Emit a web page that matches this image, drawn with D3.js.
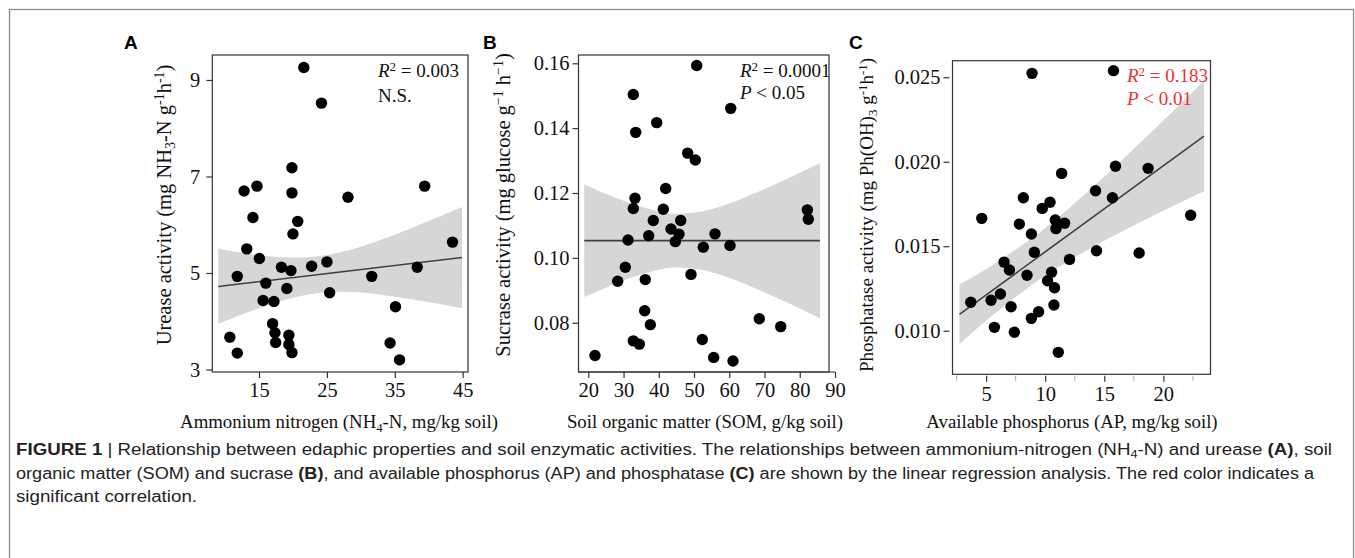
<!DOCTYPE html>
<html><head><meta charset="utf-8">
<script src="https://cdn.jsdelivr.net/npm/d3@7"></script>
<style>body{margin:0;background:#fff}svg{display:block}</style>
</head><body><svg id="c" width="1355" height="558"></svg>
<script>
// ---------- data ----------
const ammoniumN = [21.6,24.2,19.85,12.8,14.7,19.85,28.1,39.4,14.1,20.7,20.0,13.2,43.5,15.05,25.0,22.75,18.3,38.3,19.7,11.8,31.6,16.0,19.1,25.4,15.6,17.2,35.1,17.0,17.35,19.4,10.7,17.45,19.4,34.3,11.8,19.85,35.7];
const urease    = [9.26,8.52,7.18,6.70,6.80,6.66,6.57,6.80,6.15,6.07,5.81,5.50,5.64,5.30,5.23,5.14,5.12,5.12,5.05,4.93,4.93,4.79,4.68,4.59,4.43,4.41,4.30,3.95,3.76,3.71,3.67,3.56,3.52,3.55,3.34,3.35,3.20];

const som      = [50.76,32.77,60.41,39.41,33.45,48.2,50.36,41.96,33.25,32.77,41.28,38.44,46.22,43.47,45.74,37.14,31.27,44.69,55.95,52.63,60.21,82.15,82.43,30.5,28.34,36.17,49.14,36.0,37.6,68.52,74.6,32.77,34.47,52.35,21.9,55.58,61.06];
const sucrase  = [0.1593,0.1504,0.1461,0.1417,0.1387,0.1323,0.1302,0.1214,0.1184,0.1152,0.1150,0.1115,0.1115,0.1089,0.1073,0.1068,0.1055,0.1050,0.1074,0.1033,0.1038,0.1148,0.1119,0.0971,0.0928,0.0933,0.0949,0.0837,0.0794,0.0812,0.0788,0.0744,0.0734,0.0748,0.0699,0.0693,0.0682];

const availP      = [8.885,15.78,15.95,18.71,11.39,14.26,8.15,15.69,10.41,9.75,4.63,22.31,10.85,11.64,7.81,10.91,8.83,9.08,14.34,17.95,12.06,6.52,6.97,10.54,8.46,10.2,10.79,6.21,3.70,5.42,7.11,10.74,9.44,8.83,5.70,7.39,11.11];
const phosphatase = [0.02523,0.02539,0.01973,0.01961,0.01931,0.01828,0.01787,0.01787,0.01760,0.01724,0.01665,0.01683,0.01655,0.01636,0.01631,0.01604,0.01572,0.01464,0.01473,0.01460,0.01422,0.01406,0.01359,0.01346,0.01328,0.01296,0.01254,0.01217,0.01168,0.01180,0.01142,0.01152,0.01112,0.01073,0.01020,0.00991,0.00872];

// fitted lines: [x0, y0, x1, y1]
const fitA = [9.0, 4.72, 44.9, 5.32];
const fitB = [18.86, 0.1053, 85.75, 0.1053];
const fitC = [2.745, 0.01097, 23.44, 0.02152];

// confidence bands: x, lower, upper
const bandAx = [9, 15, 21, 27, 33, 39, 44.9];
const bandAlo = [3.95, 4.27, 4.52, 4.61, 4.55, 4.42, 4.27];
const bandAhi = [5.50, 5.37, 5.32, 5.43, 5.69, 6.02, 6.37];
const bandBx = [18.86, 30, 40, 46, 55, 65, 75, 85.75];
const bandBlo = [0.0879, 0.0930, 0.0963, 0.0970, 0.0956, 0.0917, 0.0869, 0.0813];
const bandBhi = [0.1227, 0.1176, 0.1143, 0.1136, 0.1150, 0.1189, 0.1237, 0.1292];
const bandCx = [2.745, 5, 8.4, 11, 14, 17, 20, 23.44];
const bandClo = [0.00920, 0.01059, 0.01247, 0.01371, 0.01494, 0.01605, 0.01710, 0.01825];
const bandChi = [0.01274, 0.01365, 0.01523, 0.01665, 0.01848, 0.02043, 0.02244, 0.02480];

// ticks
const ticksAx = [15, 25, 35, 45];
const ticksAy = [3, 5, 7, 9];
const ticksBx = [20, 30, 40, 50, 60, 70, 80, 90];
const ticksBy = [0.08, 0.10, 0.12, 0.14, 0.16];
const ticksCx = [5, 10, 15, 20];
const ticksCxMinor = [2.5, 7.5, 12.5, 17.5, 22.5];
const ticksCy = [0.010, 0.015, 0.020, 0.025];

const statsA = ["0.003", "N.S."];
const statsB = ["0.0001", "P < 0.05"];
const statsC = ["0.183", "P < 0.01"];

// ---------- drawing ----------
const svg = d3.select("#c");
const SERIF = "'Liberation Serif','Times New Roman',serif";
const SANS = "'Liberation Sans',Arial,sans-serif";
const TICK_FS = 20.5, XT_FS = 18.8, ST_FS = 19;

// outer frame
svg.append("rect").attr("x", 9.5).attr("y", 9.5).attr("width", 1344).attr("height", 560)
  .attr("fill", "none").attr("stroke", "#8c8c8c").attr("stroke-width", 1.3);

function rich(sel, parts) {
  parts.forEach(p => {
    const [t, k] = Array.isArray(p) ? p : [p, "n"];
    const ts = sel.append("tspan").text(t).attr("class", k);
    if (k === "sub") ts.attr("font-size", "0.68em").attr("dy", "0.3em");
    if (k === "sup") ts.attr("font-size", "0.68em").attr("dy", "-0.5em");
    if (k === "i") ts.attr("font-style", "italic");
    if (k === "b") ts.attr("font-weight", "bold");
  });
  let prev = null;
  sel.selectAll("tspan").each(function() {
    const cl = d3.select(this).attr("class");
    if (prev === "sub" && cl !== "sub") d3.select(this).attr("dy", "-0.204em");
    if (prev === "sup" && cl !== "sup") d3.select(this).attr("dy", "0.34em");
    prev = cl;
  });
}

function panel(cfg) {
  const g = svg.append("g");
  const x = d3.scaleLinear().domain(cfg.xdom).range([cfg.box[0], cfg.box[2]]);
  const y = d3.scaleLinear().domain(cfg.ydom).range([cfg.box[3], cfg.box[1]]);

  const band = cfg.bandX.map((v, i) => ({x: v, lo: cfg.bandLo[i], hi: cfg.bandHi[i]}));
  g.append("path").datum(band)
    .attr("d", d3.area().x(d => x(d.x)).y0(d => y(d.lo)).y1(d => y(d.hi)).curve(d3.curveNatural))
    .attr("fill", "#d6d6d6");
  g.append("line").attr("x1", x(cfg.fit[0])).attr("y1", y(cfg.fit[1]))
    .attr("x2", x(cfg.fit[2])).attr("y2", y(cfg.fit[3]))
    .attr("stroke", "#404040").attr("stroke-width", 1.6);
  g.selectAll("circle.pt").data(cfg.xs.map((v, i) => [v, cfg.ys[i]])).join("circle")
    .attr("class", "pt").attr("cx", d => x(d[0])).attr("cy", d => y(d[1])).attr("r", 5.7).attr("fill", "#000");
  g.append("rect").attr("x", cfg.box[0]).attr("y", cfg.box[1])
    .attr("width", cfg.box[2] - cfg.box[0]).attr("height", cfg.box[3] - cfg.box[1])
    .attr("fill", "none").attr("stroke", "#333").attr("stroke-width", 1.2);

  const xa = g.append("g").attr("transform", `translate(0,${cfg.box[3] + cfg.xoff})`)
    .call(d3.axisBottom(x).tickValues(cfg.xticks).tickFormat(d3.format("d")).tickSize(6).tickSizeOuter(0).tickPadding(cfg.xpad));
  xa.select(".domain").remove();
  if (cfg.xaxisLine) {
    xa.append("line").attr("x1", cfg.box[0]).attr("x2", x(cfg.xticks[cfg.xticks.length - 1]))
      .attr("stroke", "#333").attr("stroke-width", 1.2);
  }
  if (cfg.xminor) {
    xa.selectAll("line.minor").data(cfg.xminor).join("line").attr("class", "minor")
      .attr("x1", d => x(d)).attr("x2", d => x(d)).attr("y1", 0).attr("y2", 5)
      .attr("stroke", "#aaa").attr("stroke-width", 1);
  }
  xa.selectAll(".tick line").attr("stroke", "#333").attr("stroke-width", 1.2);
  xa.selectAll("text").attr("font-family", SERIF).attr("font-size", TICK_FS).attr("fill", "#111");

  const ya = g.append("g").attr("transform", `translate(${cfg.box[0] - cfg.yoff},0)`)
    .call(d3.axisLeft(y).tickValues(cfg.yticks).tickFormat(cfg.yfmt).tickSize(6).tickSizeOuter(0).tickPadding(cfg.ypad));
  ya.select(".domain").remove();
  ya.selectAll(".tick line").attr("stroke", "#333").attr("stroke-width", 1.2);
  ya.selectAll("text").attr("font-family", SERIF).attr("font-size", TICK_FS).attr("fill", "#111");

  const xt = g.append("text").attr("x", cfg.xtitle[0]).attr("y", cfg.xtitle[1]).attr("text-anchor", "middle")
    .attr("font-family", SERIF).attr("font-size", XT_FS).attr("fill", "#111");
  rich(xt, cfg.xtitleParts);
  const yt = g.append("text").attr("transform", `translate(${cfg.ytitle[0]},${cfg.ytitle[1]}) rotate(-90)`)
    .attr("text-anchor", "middle").attr("font-family", SERIF).attr("font-size", cfg.ytfs).attr("fill", "#111");
  rich(yt, cfg.ytitleParts);

  g.append("text").attr("x", cfg.letter[0]).attr("y", cfg.letter[1]).text(cfg.letter[2])
    .attr("font-family", SANS).attr("font-weight", "bold").attr("font-size", 19).attr("fill", "#000");

  const s1 = g.append("text").attr("x", cfg.stats[0]).attr("y", cfg.stats[1])
    .attr("font-family", SERIF).attr("font-size", ST_FS).attr("fill", cfg.statColor);
  rich(s1, [["R", "i"], ["2", "sup"], " = " + cfg.statText[0]]);
  const s2 = g.append("text").attr("x", cfg.stats[0]).attr("y", cfg.stats[2])
    .attr("font-family", SERIF).attr("font-size", ST_FS).attr("fill", cfg.statColor);
  const t2 = cfg.statText[1];
  if (t2.startsWith("P")) rich(s2, [["P", "i"], t2.slice(1)]);
  else s2.text(t2);
}

panel({
  box: [212.3, 55, 468, 372], xdom: [8.12, 45.78], ydom: [2.948, 9.518],
  xs: ammoniumN, ys: urease, fit: fitA, bandX: bandAx, bandLo: bandAlo, bandHi: bandAhi,
  xticks: ticksAx, yticks: ticksAy, yfmt: d3.format("d"), xoff: 0, yoff: 0, xpad: 4, ypad: 6,
  xtitle: [339, 428], xtitleParts: ["Ammonium nitrogen (NH", ["4", "sub"], "-N, mg/kg soil)"],
  ytitle: [171, 205], ytfs: 20.5, ytitleParts: ["Urease activity (mg NH", ["3", "sub"], "-N g", ["-1", "sup"], "h", ["-1", "sup"], ")"],
  letter: [124, 49, "A"], stats: [378, 77, 102], statText: statsA, statColor: "#111"
});
panel({
  box: [578.5, 55, 829, 372], xdom: [17.22, 88.30], ydom: [0.0648, 0.16256],
  xs: som, ys: sucrase, fit: fitB, bandX: bandBx, bandLo: bandBlo, bandHi: bandBhi,
  xticks: ticksBx, yticks: ticksBy, yfmt: d3.format(".2f"), xoff: 0, yoff: 0, xpad: 4, ypad: 3, xaxisLine: true,
  xtitle: [705, 428], xtitleParts: ["Soil organic matter (SOM, g/kg soil)"],
  ytitle: [510, 205], ytfs: 20.5, ytitleParts: ["Sucrase activity (mg glucose g", ["\u22121", "sup"], " h", ["\u22121", "sup"], ")"],
  letter: [483, 49, "B"], stats: [740, 77, 99], statText: statsB, statColor: "#111"
});
panel({
  box: [952.5, 60.7, 1210.5, 374.3], xdom: [2.154, 23.99], ydom: [0.00742, 0.02598],
  xs: availP, ys: phosphatase, fit: fitC, bandX: bandCx, bandLo: bandClo, bandHi: bandChi,
  xticks: ticksCx, xminor: ticksCxMinor, yticks: ticksCy, yfmt: d3.format(".3f"), xoff: 1.5, yoff: 3, xpad: 5, ypad: 3,
  xtitle: [1072, 428], xtitleParts: ["Available phosphorus (AP, mg/kg soil)"],
  ytitle: [873, 215], ytfs: 19, ytitleParts: ["Phosphatase activity (mg Ph(OH)", ["3", "sub"], " g", ["-1", "sup"], "h", ["-1", "sup"], ")"],
  letter: [849, 49, "C"], stats: [1127, 82, 105], statText: statsC, statColor: "#e8322e"
});

// caption
const CAP = "'Liberation Sans Narrow','Liberation Sans',Arial,sans-serif";
const capLines = [
  {y: 455, w: 1316, parts: [["FIGURE 1", "b"], " | Relationship between edaphic properties and soil enzymatic activities. The relationships between ammonium-nitrogen (NH", ["4", "sub"], "-N) and urease ", ["(A)", "b"], ", soil"]},
  {y: 479, w: 1298, parts: ["organic matter (SOM) and sucrase ", ["(B)", "b"], ", and available phosphorus (AP) and phosphatase ", ["(C)", "b"], " are shown by the linear regression analysis. The red color indicates a"]},
  {y: 502, w: 181, parts: ["significant correlation."]}
];
capLines.forEach(l => {
  const t = svg.append("text").attr("x", 16).attr("y", l.y).attr("font-family", CAP)
    .attr("font-size", 16).attr("fill", "#222");
  rich(t, l.parts);
  t.attr("textLength", l.w).attr("lengthAdjust", "spacingAndGlyphs");
});
</script></body></html>
